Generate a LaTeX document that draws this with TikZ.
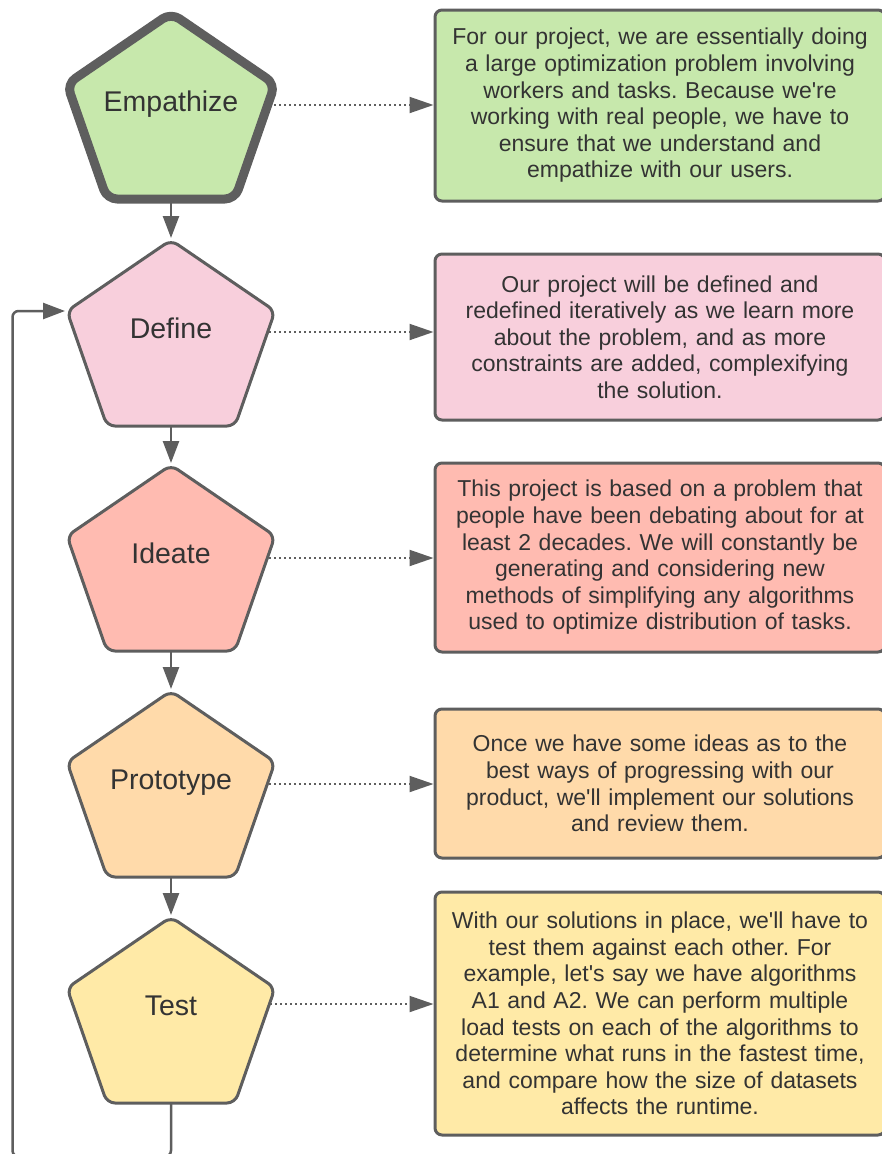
\documentclass[tikz,border=0pt]{standalone}
\usepackage{fontspec}
\setmainfont{Liberation Sans}[Ligatures=TeXOff]
\usetikzlibrary{arrows.meta,calc}
\definecolor{edge}{HTML}{5E5E5E}
\definecolor{txt}{HTML}{333333}
\definecolor{cgreen}{HTML}{C7E8AC}
\definecolor{cpink}{HTML}{F8CFDC}
\definecolor{cred}{HTML}{FFBBB1}
\definecolor{corange}{HTML}{FFDAAA}
\definecolor{cyellow}{HTML}{FFEAA7}
\frenchspacing
\tikzset{
  pentshape/.style={draw=edge, line width=3pt, rounded corners=8pt, line join=round},
  pentlabel/.style={font=\fontsize{28.5}{32}\selectfont, text=txt, anchor=base, inner sep=0pt},
  infobox/.style={draw=edge, line width=3pt, rounded corners=7pt, minimum width=450pt,
    text width=440pt, align=center, inner sep=0pt, font=\fontsize{23}{26.6}\selectfont, text=txt},
  flow/.style={draw=edge, line width=2.5pt, -{Triangle[length=22pt,width=16pt]}},
  dotflow/.style={draw=edge, line width=2pt, dash pattern=on 2pt off 3pt, -{Triangle[length=24pt,width=16pt]}},
}
\newcommand\mypent[5]{%
  \draw[pentshape, fill=#3, #5] (171,#2) -- (275,#2+71) -- (235,#2+186) -- (107,#2+186) -- (67,#2+71) -- cycle;
  \coordinate (#1T) at (171,#2);
  \coordinate (#1B) at (171,#2+186);
  \coordinate (#1L) at (67,#2+71);
  \node[pentlabel] (#1) at (171,#2+98) {#4};
}
\begin{document}
\begin{tikzpicture}[x=1pt,y=-1pt]
\useasboundingbox (0,0) rectangle (881,1154);

\mypent{emp}{13}{cgreen}{Empathize}{line width=9pt, rounded corners=10pt}
\mypent{def}{240}{cpink}{Define}{}
\mypent{ide}{465}{cred}{Ideate}{}
\mypent{pro}{691}{corange}{Prototype}{}
\mypent{tst}{917}{cyellow}{Test}{}

\node[infobox, fill=cgreen, minimum height=191pt] (box1) at (660,105.5)
  {For our project, we are essentially doing\\ a large optimization problem involving\\ workers and tasks. Because we're\\ working with real people, we have to\\ ensure that we understand and\\ empathize with our users.};
\node[infobox, fill=cpink, minimum height=166pt] (box2) at (660,337)
  {Our project will be defined and\\ redefined iteratively as we learn more\\ about the problem, and as more\\ constraints are added, complexifying\\ the solution.};
\node[infobox, fill=cred, minimum height=189pt] (box3) at (660,557.5)
  {This project is based on a problem that\\ people have been debating about for at\\ least 2 decades. We will constantly be\\ generating and considering new\\ methods of simplifying any algorithms\\ used to optimize distribution of tasks.};
\node[infobox, fill=corange, minimum height=149pt] (box4) at (660,783.5)
  {Once we have some ideas as to the\\ best ways of progressing with our\\ product, we'll implement our solutions\\ and review them.};
\node[infobox, fill=cyellow, minimum height=243pt] (box5) at (660,1013.5)
  {With our solutions in place, we'll have to\\ test them against each other. For\\ example, let's say we have algorithms\\ A1 and A2. We can perform multiple\\ load tests on each of the algorithms to\\ determine what runs in the fastest time,\\ and compare how the size of datasets\\ affects the runtime.};

% dotted connectors start points
\coordinate (empO) at (274,105);
\coordinate (defO) at (269,332);
\coordinate (ideO) at (269,558);
\coordinate (proO) at (269,784);
\coordinate (tstO) at (270,1004);
\draw[dotflow] (empO) -- (empO -| box1.west);
\draw[dotflow] (defO) -- (defO -| box2.west);
\draw[dotflow] (ideO) -- (ideO -| box3.west);
\draw[dotflow] (proO) -- (proO -| box4.west);
\draw[dotflow] (tstO) -- (tstO -| box5.west);

% vertical flow
\draw[flow] (empB) -- ($(defT)+(0,-2)$);
\draw[flow] (defB) -- ($(ideT)+(0,-2)$);
\draw[flow] (ideB) -- ($(proT)+(0,-2)$);
\draw[flow] (proB) -- ($(tstT)+(0,-2)$);

% loop back
\coordinate (loopR) at (171,1156.5);
\coordinate (loopL) at (12.5,1156.5);
\coordinate (loopT) at (12.5,311);
\draw[flow, rounded corners=6pt] (tstB) -- (loopR) -- (loopL) -- (loopT) -- ($(defL)+(-2,0)$);
\end{tikzpicture}
\end{document}
